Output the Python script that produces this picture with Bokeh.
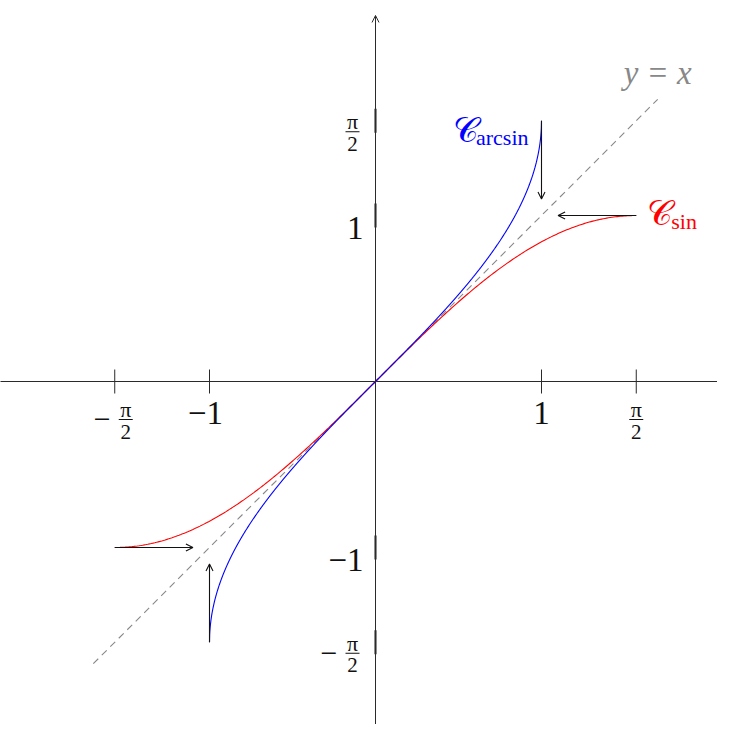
import numpy as np
from bokeh.plotting import figure
from bokeh.models import Range1d, Arrow, OpenHead
from bokeh.core.properties import value
from bokeh.embed import file_html
from bokeh.resources import INLINE

# ---- data ----
half_pi = np.pi / 2
x_ticks = [-half_pi, -1.0, 1.0, half_pi]
x_tick_labels = ["−π/2", "−1", "1", "π/2"]
y_ticks = [-half_pi, -1.0, 1.0, half_pi]
y_tick_labels = ["−π/2", "−1", "1", "π/2"]

sin_x = np.linspace(-half_pi, half_pi, 301)
sin_y = np.sin(sin_x)
arcsin_x = np.linspace(-1.0, 1.0, 2001)
arcsin_y = np.arcsin(arcsin_x)
diag_x = [-1.7, 1.7]
diag_y = [-1.7, 1.7]

# arrows: start -> end
arrow_x0 = [1.0, half_pi, -half_pi, -1.0]
arrow_y0 = [half_pi, 1.0, -1.0, -half_pi]
arrow_x1 = [1.0, 1.1, -1.1, -1.0]
arrow_y1 = [1.1, 1.0, -1.0, -1.1]

# ---- layout ----
S = 166.0            # pixels per unit
W, H = 717, 724
ox, oy = 375, 381    # origin position in figure pixels
FONT = "Liberation Serif"
TXT = "#111111"

p = figure(width=W, height=H, output_backend="svg", toolbar_location=None,
           x_range=Range1d(-ox / S, (W - ox) / S),
           y_range=Range1d(-(H - oy) / S, oy / S),
           x_axis_type=None, y_axis_type=None, min_border=0)
p.grid.visible = False
p.outline_line_color = None

AX = "#2a2a2a"
# axes
p.line([-2.3, 2.3], [0, 0], line_color=AX, line_width=1)
p.add_layout(Arrow(x_start=0, y_start=-2.3, x_end=0, y_end=2.205,
                   line_color=AX, line_width=1,
                   end=OpenHead(size=7, line_width=1, line_color=AX)))

# ticks
tk = 12 / S
p.segment(x0=x_ticks, y0=[-tk] * 4, x1=x_ticks, y1=[tk] * 4, line_color=AX, line_width=1)
p.segment(x0=[0] * 4, y0=[t - tk for t in y_ticks], x1=[0] * 4, y1=[t + tk for t in y_ticks],
          line_color="#1a1a1a", line_width=2)

# tick labels
def put_label(x, y, lab, dx, dy, align):
    # dx, dy in pixels (dy positive = down)
    xs = x + dx / S
    ys = y - dy / S
    if "π" in lab:
        neg = lab.startswith("−")
        p.text([xs], [ys + 9 / S], text=["π"], text_font=value(FONT), text_font_size="22px",
               text_align="center", text_baseline="middle", text_color=TXT)
        p.text([xs], [ys - 13 / S], text=["2"], text_font=value(FONT), text_font_size="21px",
               text_align="center", text_baseline="middle", text_color=TXT)
        p.segment(x0=[xs - 7 / S], y0=[ys - 1 / S], x1=[xs + 7 / S], y1=[ys - 1 / S],
                  line_color=TXT, line_width=1)
        if neg:
            p.text([xs - 15 / S], [ys - 1 / S], text=["−"], text_font=value(FONT),
                   text_font_size="30px", text_align="right", text_baseline="middle",
                   text_color=TXT)
    else:
        p.text([xs], [ys], text=[lab], text_font=value(FONT), text_font_size="33px",
               text_align=align, text_baseline="middle", text_color=TXT)

for t, lab in zip(x_ticks, x_tick_labels):
    if "π" in lab:
        put_label(t, 0, lab, 11 if lab.startswith("−") else 0, 37, "center")
    else:
        put_label(t, 0, lab, -4 if lab.startswith("−") else 0, 31, "center")

for t, lab in zip(y_ticks, y_tick_labels):
    if "π" in lab:
        put_label(0, t, lab, -23, 10, "right")
    else:
        put_label(0, t, lab, -12, 12, "right")

# curves
p.line(diag_x, diag_y, line_color="#888888", line_width=1.1, line_dash="7 5")
p.line(sin_x, sin_y, line_color="#ff0000", line_width=1.1)
p.line(arcsin_x, arcsin_y, line_color="#0000ff", line_width=1.1)

# arrows
for xa, ya, xb, yb in zip(arrow_x0, arrow_y0, arrow_x1, arrow_y1):
    p.add_layout(Arrow(x_start=xa, y_start=ya, x_end=xb, y_end=yb,
                       line_color=TXT, line_width=1.1,
                       end=OpenHead(size=7, line_width=1.1, line_color=TXT)))

# curve labels
p.text([diag_x[1]], [diag_y[1] + 26 / S], text=["y = x"], text_font=value(FONT),
       text_font_size="33px", text_font_style="italic", text_color="#888888",
       text_align="center", text_baseline="middle")

p.text([arrow_x0[0] - 63 / S], [arrow_y0[0] - 10 / S], text=["𝒞"], text_font=value(FONT),
       text_font_size="35px", text_color="#0000ff", text_align="right", text_baseline="middle")
p.text([arrow_x0[0] - 13 / S], [arrow_y0[0] - 17 / S], text=["arcsin"], text_font=value(FONT),
       text_font_size="22px", text_color="#0000ff", text_align="right", text_baseline="middle")

p.text([arrow_x0[1] + 11 / S], [arrow_y0[1] + 2 / S], text=["𝒞"], text_font=value(FONT),
       text_font_size="35px", text_color="#ff0000", text_align="left", text_baseline="middle")
p.text([arrow_x0[1] + 35 / S], [arrow_y0[1] - 6 / S], text=["sin"], text_font=value(FONT),
       text_font_size="22px", text_color="#ff0000", text_align="left", text_baseline="middle")

open("out.html", "w").write(file_html(p, INLINE))
